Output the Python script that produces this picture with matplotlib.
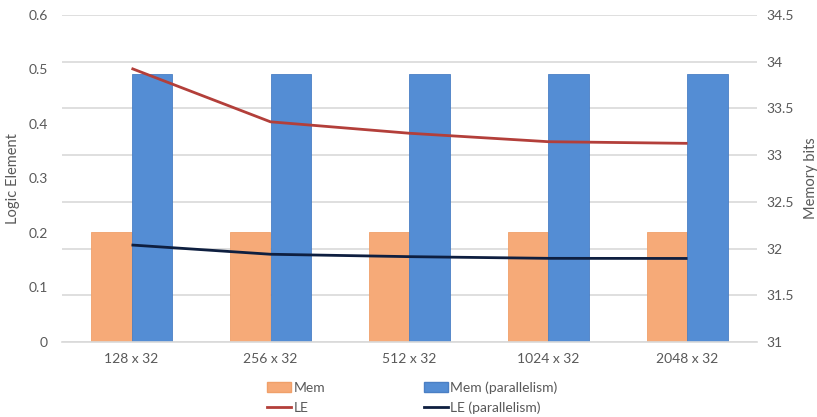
import matplotlib
matplotlib.use("Agg")
import matplotlib.pyplot as plt
from matplotlib.patches import Patch
from matplotlib.lines import Line2D
import numpy as np

categories = ["128 x 32", "256 x 32", "512 x 32", "1024 x 32", "2048 x 32"]
mem_bits = [32.18, 32.18, 32.18, 32.18, 32.18]
mem_par_bits = [33.87, 33.87, 33.87, 33.87, 33.87]
le = [0.502, 0.404, 0.383, 0.3675, 0.3645]
le_par = [0.178, 0.161, 0.1566, 0.1535, 0.1533]

plt.rcParams["font.family"] = ["Lato", "DejaVu Sans"]
TEXT = "#595959"
GRID = "#d9d9d9"
ORANGE = "#F6AA78"
BLUE = "#548DD4"
RED = "#B33F3A"
NAVY = "#0E1F40"

fig = plt.figure(figsize=(8.17, 4.17), dpi=100)
ax = fig.add_axes([62 / 817, 1 - 342 / 417, (757 - 62) / 817, (342 - 15) / 417])
ax2 = ax.twinx()

x = np.arange(len(categories))
w = 0.288

# bars on the memory-bits axis, drawn beneath the lines
ax2.bar(x - w / 2, mem_bits, w, color=ORANGE, edgecolor="#F0A06A", linewidth=0.6, zorder=2)
ax2.bar(x + w / 2, mem_par_bits, w, color=BLUE, edgecolor="#4A7FC4", linewidth=0.6, zorder=2)
ax2.set_ylim(31, 34.5)
ax2.set_yticks(np.arange(31, 34.51, 0.5))
ax2.set_yticklabels(["31", "31.5", "32", "32.5", "33", "33.5", "34", "34.5"])
ax2.yaxis.grid(True, color=GRID, linewidth=1.2, zorder=0)
ax2.set_axisbelow(True)

ax.set_zorder(ax2.get_zorder() + 1)
ax.patch.set_visible(False)
ax.plot(x, le, color=RED, linewidth=2.0, solid_capstyle="butt", zorder=3)
ax.plot(x, le_par, color=NAVY, linewidth=2.0, solid_capstyle="butt", zorder=3)
ax.set_ylim(0, 0.6)
ax.set_yticks(np.arange(0, 0.61, 0.1))
ax.set_yticklabels(["0", "0.1", "0.2", "0.3", "0.4", "0.5", "0.6"])
ax.set_xlim(-0.5, 4.5)
ax.set_xticks(x)
ax.set_xticklabels(categories)

for a in (ax, ax2):
    for s in a.spines.values():
        s.set_visible(False)
    a.tick_params(length=0, colors=TEXT, labelsize=10)
ax.tick_params(axis="y", pad=10)
ax2.tick_params(axis="y", pad=7)
ax.tick_params(axis="x", pad=8)
ax2.spines["bottom"].set_visible(True)
ax2.spines["bottom"].set_color(GRID)
ax2.spines["bottom"].set_linewidth(1.2)

ax.set_ylabel("Logic Element", color=TEXT, fontsize=10.5, labelpad=6)
ax2.set_ylabel("Memory bits", color=TEXT, fontsize=10.5, labelpad=7)

handles = [
    Patch(facecolor=ORANGE, edgecolor="#F0A06A"),
    Line2D([0], [0], color=RED, linewidth=2),
    Patch(facecolor=BLUE, edgecolor="#4A7FC4"),
    Line2D([0], [0], color=NAVY, linewidth=2),
]
labels = ["Mem", "LE", "Mem (parallelism)", "LE (parallelism)"]
leg = fig.legend(handles, labels, ncol=2, loc="center", bbox_to_anchor=(0.505, 0.046),
                 frameon=False, fontsize=10, handlelength=1.7, handletextpad=0.2,
                 columnspacing=7.1, labelspacing=0.55)
for t in leg.get_texts():
    t.set_color(TEXT)

fig.savefig("out.png", dpi=100)
